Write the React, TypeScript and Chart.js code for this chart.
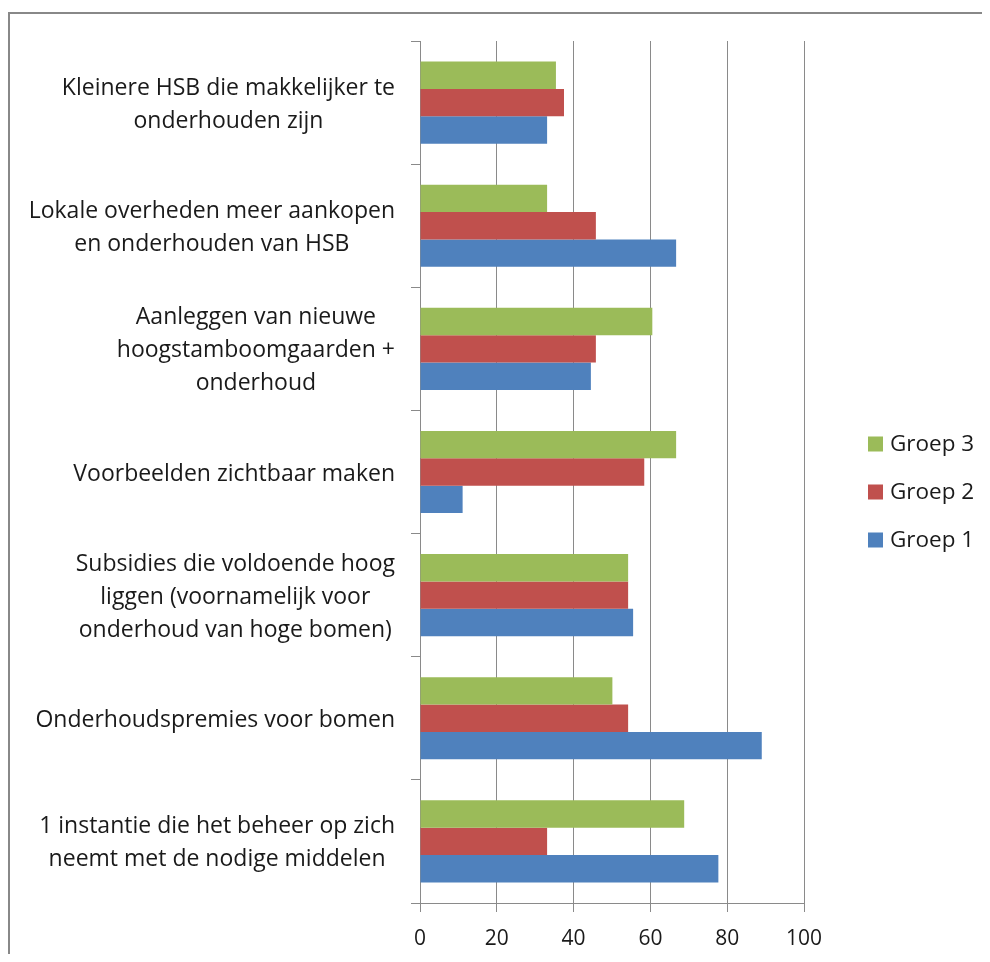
import React, { useEffect, useRef } from 'react';
import { Chart, registerables } from 'chart.js';

Chart.register(...registerables);

// Categories, top to bottom (each entry = wrapped lines of the label)
const categories: string[][] = [
  ['Kleinere HSB die makkelijker te', 'onderhouden zijn'],
  ['Lokale overheden meer aankopen', 'en onderhouden van HSB'],
  ['Aanleggen van nieuwe', 'hoogstamboomgaarden +', 'onderhoud'],
  ['Voorbeelden zichtbaar maken'],
  ['Subsidies die voldoende hoog', 'liggen (voornamelijk voor', 'onderhoud van hoge bomen)'],
  ['Onderhoudspremies voor bomen'],
  ['1 instantie die het beheer op zich', 'neemt met de nodige middelen'],
];

const groep3: number[] = [35.4, 33.1, 60.5, 66.7, 54.2, 50.1, 68.8];
const groep2: number[] = [37.5, 45.8, 45.8, 58.4, 54.2, 54.2, 33.1];
const groep1: number[] = [33.1, 66.7, 44.5, 11.1, 55.5, 89.0, 77.7];

const seriesNames: string[] = ['Groep 3', 'Groep 2', 'Groep 1'];
const seriesColors: string[] = ['#9BBB59', '#C0504D', '#4F81BD'];

const xMin = 0;
const xMax = 100;
const xStep = 20;

const FONT = '"Open Sans", "Noto Sans", sans-serif';
const TEXT_COLOR = '#1a1a1a';
const GRID_COLOR = '#8a8a8a';

const categoryLabelsPlugin = {
  id: 'categoryLabels',
  afterDraw(chart: any) {
    const yScale = chart.scales.y;
    const ctx = chart.ctx as CanvasRenderingContext2D;
    ctx.save();
    ctx.font = `23px ${FONT}`;
    ctx.fillStyle = TEXT_COLOR;
    ctx.textAlign = 'center';
    ctx.textBaseline = 'middle';
    const lineH = 33;
    categories.forEach((lines, i) => {
      const cy = yScale.getPixelForValue(i) + 2;
      const w = Math.max(...lines.map((l) => ctx.measureText(l).width));
      const cx = chart.chartArea.left - 25 - w / 2;
      lines.forEach((l, j) => {
        ctx.fillText(l, cx, cy + (j - (lines.length - 1) / 2) * lineH);
      });
    });
    ctx.restore();
  },
};

const legendPlugin = {
  id: 'sideLegend',
  afterDraw(chart: any) {
    const ctx = chart.ctx as CanvasRenderingContext2D;
    const area = chart.chartArea;
    ctx.save();
    ctx.font = `22.5px ${FONT}`;
    ctx.textAlign = 'left';
    ctx.textBaseline = 'middle';
    const midY = (area.top + area.bottom) / 2 + 20;
    const spacing = 48;
    const n = chart.data.datasets.length;
    chart.data.datasets.forEach((ds: any, i: number) => {
      const cy = midY + (i - (n - 1) / 2) * spacing;
      const bx = area.right + 64;
      ctx.fillStyle = ds.backgroundColor;
      ctx.fillRect(bx, cy - 7.5, 15, 15);
      ctx.fillStyle = TEXT_COLOR;
      ctx.fillText(ds.label, bx + 22, cy + 1);
    });
    ctx.restore();
  },
};

export default function App() {
  const canvasRef = useRef<HTMLCanvasElement | null>(null);

  useEffect(() => {
    if (!canvasRef.current) return;
    const seriesData = [groep3, groep2, groep1];
    const chart = new Chart(canvasRef.current, {
      type: 'bar',
      data: {
        labels: categories.map((c) => c.join(' ')),
        datasets: seriesNames.map((name, i) => ({
          label: name,
          data: seriesData[i],
          backgroundColor: seriesColors[i],
          borderWidth: 0,
          categoryPercentage: 0.667,
          barPercentage: 1,
        })),
      },
      options: {
        indexAxis: 'y',
        animation: false,
        responsive: false,
        maintainAspectRatio: false,
        layout: { padding: { top: 27, right: 170, left: 0, bottom: 0 } },
        plugins: {
          legend: { display: false },
          tooltip: { enabled: false },
        },
        scales: {
          x: {
            min: xMin,
            max: xMax,
            ticks: {
              stepSize: xStep,
              color: TEXT_COLOR,
              font: { family: FONT, size: 21 },
              padding: 14,
            },
            grid: {
              color: GRID_COLOR,
              lineWidth: 1,
              tickLength: 9,
              drawTicks: true,
            },
            border: { color: GRID_COLOR, width: 1 },
            afterFit: (s: any) => {
              s.height = 51;
            },
          },
          y: {
            ticks: { display: false },
            grid: {
              drawOnChartArea: false,
              drawTicks: true,
              tickLength: 9,
              color: GRID_COLOR,
              offset: true,
            },
            border: { color: GRID_COLOR, width: 1 },
            afterFit: (s: any) => {
              s.width = 410;
            },
          },
        },
      } as any,
      plugins: [categoryLabelsPlugin, legendPlugin],
    });
    return () => chart.destroy();
  }, []);

  return (
    <div style={{ paddingTop: 4 }}>
      <div
        style={{
          width: 974,
          height: 942,
          boxSizing: 'border-box',
          borderLeft: '2px solid #888',
          borderTop: '2px solid #888',
          overflow: 'hidden',
          background: '#fff',
        }}
      >
        <canvas ref={canvasRef} width={964} height={940} style={{ display: 'block' }} />
      </div>
    </div>
  );
}
